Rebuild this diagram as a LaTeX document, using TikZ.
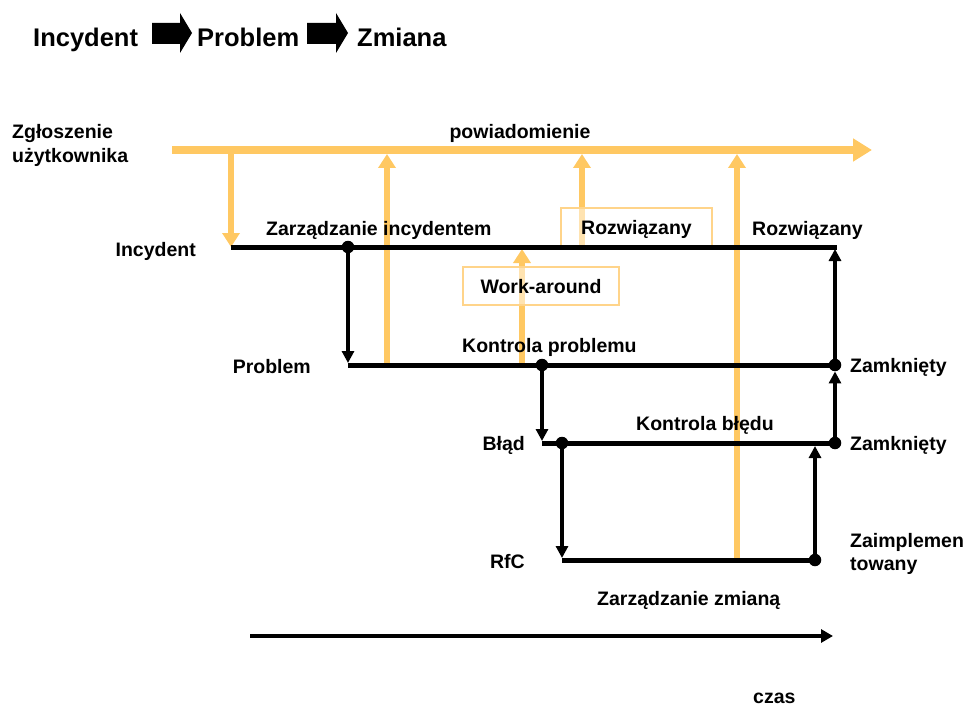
\documentclass[tikz,border=0pt]{standalone}
\usepackage{fontspec}
\setmainfont{Liberation Sans}
\usetikzlibrary{arrows.meta,calc}
\definecolor{amber}{HTML}{FFC862}
\definecolor{boxline}{HTML}{FFD48A}
\begin{document}
\begin{tikzpicture}[x=1pt,y=-1pt,
  lbl/.style={font=\bfseries\fontsize{19.5}{22}\selectfont, inner sep=0pt, anchor=base west},
  lblr/.style={lbl, anchor=base east},
  lblc/.style={lbl, anchor=base},
  head/.style={font=\bfseries\fontsize{25.5}{28}\selectfont, inner sep=0pt, anchor=base west},
  flow/.style={line width=5pt},
  varrow/.style={line width=3.2pt, -{Triangle[length=12pt,width=12pt]}},
  notify/.style={amber, line width=5.5pt, -{Triangle[length=14pt,width=17pt]}},
  dotn/.style={circle, fill=black, inner sep=0pt, minimum size=12.5pt},
  obox/.style={draw=boxline, line width=1.2pt, fill=white, fill opacity=0.5, text opacity=1,
               font=\bfseries\fontsize{19.5}{22}\selectfont, text height=14pt, text depth=0pt,
               inner sep=0pt}
]
\useasboundingbox (0,0) rectangle (964,706);

% ---- heading with block arrows ----
\node[head] (hInc) at (33,47) {Incydent};
\fill (152,23) -- (180,23) -- (180,13) -- (192,33) -- (180,53) -- (180,44) -- (152,44) -- cycle;
\node[head] (hProb) at (197,47) {Problem};
\fill (307,23) -- (336,23) -- (336,13) -- (348,33) -- (336,53) -- (336,44) -- (307,44) -- cycle;
\node[head] (hZm) at (357,47) {Zmiana};

% ---- process levels ----
\coordinate (iL) at (231,247); \coordinate (iR) at (837,247);
\coordinate (pL) at (348,365); \coordinate (pR) at (837,365);
\coordinate (bL) at (542,443); \coordinate (bR) at (837,443);
\coordinate (rL) at (562,560); \coordinate (rR) at (815,560);
\coordinate (rUp) at (815,443);
\coordinate (iTop) at (835,249);

% ---- notification channel ----
\coordinate (nL) at (172,150); \coordinate (nR) at (872,150);
\coordinate (nA) at (231,150);
\coordinate (nB) at (387,154); \coordinate (sB) at (387,365);
\coordinate (nC) at (582,154); \coordinate (sC) at (582,247);
\coordinate (wT) at (522,249); \coordinate (wS) at (522,365);
\coordinate (nD) at (737,154); \coordinate (sD) at (737,560);

\draw[amber, line width=8pt, -{Triangle[length=19pt,width=22pt]}] (nL) -- (nR);
\draw[notify] (nA) -- (iL);
\draw[notify] (sB) -- (nB);
\draw[notify] (sC) -- (nC);
\draw[notify] (wS) -- (wT);
\draw[notify] (sD) -- (nD);

% ---- outcome boxes ----
\node[obox, minimum width=151pt, minimum height=39pt] (rozBox) at (636.5,227.5) {Rozwiązany};
\node[obox, minimum width=156pt, minimum height=38pt] (wBox) at (541,286) {Work-around};

% ---- level lines ----
\draw[flow] (iL) -- (iR);
\draw[flow] (pL) -- (pR);
\draw[flow] (bL) -- (bR);
\draw[flow] (rL) -- (rR);

% ---- transitions ----
\node[dotn] (d1) at (348,247) {};
\node[dotn] (d2) at (542,365) {};
\node[dotn] (d3) at (562,443) {};
\node[dotn] (d4) at (815,560) {};
\node[dotn] (d5) at (835,443) {};
\node[dotn] (d6) at (835,365) {};

\draw[varrow] (d1) -- ($(pL)+(0,-2)$);
\draw[varrow] (d2) -- ($(bL)+(0,-2)$);
\draw[varrow] (d3) -- ($(rL)+(0,-2)$);
\draw[varrow] (d4) -- ($(rUp)+(0,3)$);
\draw[varrow] (d5) -- (d6);
\draw[varrow] (d6) -- (iTop);

% ---- time axis ----
\coordinate (tL) at (250,636); \coordinate (tR) at (833,636);
\draw[line width=4.5pt, -{Triangle[length=12pt,width=13pt]}] (tL) -- (tR);

% ---- labels ----
\node[lbl] (zg1) at (12,139) {Zgłoszenie};
\node[lbl] (zg2) at (12,163) {użytkownika};
\node[lblc] (pow) at (520,139) {powiadomienie};
\node[lblr] (lInc) at (196,256) {Incydent};
\node[lbl] (zInc) at (266,235) {Zarządzanie incydentem};
\node[lbl] (roz2) at (752,235) {Rozwiązany};
\node[lblr] (lProb) at (311,373) {Problem};
\node[lbl] (kProb) at (462,352) {Kontrola problemu};
\node[lbl] (zam1) at (850,372) {Zamknięty};
\node[lblr] (lBlad) at (525,450) {Błąd};
\node[lbl] (kBl) at (636,430) {Kontrola błędu};
\node[lbl] (zam2) at (850,450) {Zamknięty};
\node[lblr] (lRfc) at (525,568) {RfC};
\node[lbl] (zai1) at (850,547) {Zaimplemen};
\node[lbl] (zai2) at (850,570) {towany};
\node[lbl] (zZm) at (597,605) {Zarządzanie zmianą};
\node[lbl] (czas) at (753,703) {czas};
\end{tikzpicture}
\end{document}
